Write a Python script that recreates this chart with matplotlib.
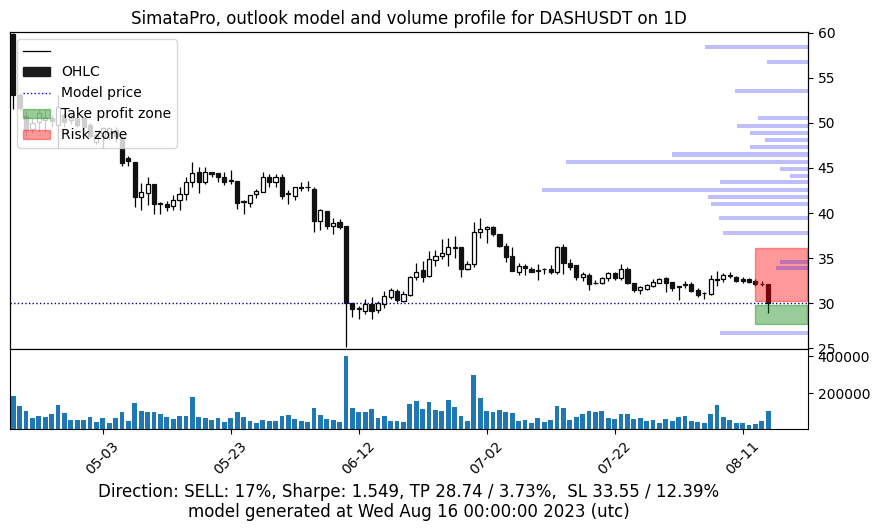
import matplotlib
matplotlib.use("Agg")
import matplotlib.pyplot as plt
import matplotlib.dates as mdates
from matplotlib.lines import Line2D
from matplotlib.patches import Patch, Rectangle
import numpy as np
import pandas as pd

# daily candles, DASHUSDT
dates = pd.date_range("2023-04-19", "2023-08-15", freq="D")

opens = [59.9, 53.1, 50.8, 49.3, 50.1, 50.3, 50.5, 49.8, 50.9, 50.3,
         50.5, 50.5, 49.8, 47.9, 48.6, 48.85, 49.2, 48.3, 46.1, 45.7,
         41.8, 42.2, 43.2, 41.1, 41.0, 40.8, 41.4, 42.1, 43.4, 44.55,
         43.4, 44.6, 44.4, 44.0, 43.7, 43.6, 41.3, 41.1, 42.1, 42.3,
         43.96, 43.4, 44.0, 42.2, 41.9, 42.9, 42.85, 42.7, 39.1, 40.2,
         38.6, 39.0, 38.55, 29.96, 29.4, 29.15, 29.9, 29.2, 29.9, 30.7,
         31.3, 30.26, 30.9, 32.9, 33.7, 33.0, 34.8, 35.2, 35.44, 36.2,
         36.2, 33.8, 34.3, 37.9, 38.2, 38.4, 37.7, 36.33, 35.2, 33.5,
         34.1, 33.78, 33.65, 33.76, 33.74, 33.5, 36.2, 34.48, 34.2, 32.85,
         33.1, 32.28, 32.2, 32.74, 33.3, 32.74, 33.74, 32.2, 31.44, 31.6,
         31.93, 32.26, 32.74, 32.3, 31.9, 32.15, 32.1, 31.44, 31.1, 31.0,
         32.6, 32.63, 33.15, 32.93, 32.67, 32.63, 32.44, 32.12, 32.1]
highs = [60.0, 53.3, 51.3, 50.6, 51.4, 51.4, 50.9, 53.1, 51.1, 50.9,
         50.8, 50.7, 50.0, 48.9, 49.6, 49.6, 49.6, 48.5, 46.3, 45.7,
         43.3, 44.0, 43.2, 41.2, 41.3, 42.0, 42.9, 44.0, 45.7, 45.1,
         45.1, 44.6, 44.4, 44.5, 44.8, 43.6, 41.4, 42.0, 42.7, 44.5,
         44.3, 44.3, 44.3, 42.6, 42.85, 43.5, 43.6, 42.85, 40.5, 40.2,
         39.4, 39.3, 38.55, 29.96, 29.7, 30.5, 30.7, 30.2, 31.3, 31.7,
         31.6, 31.3, 33.0, 34.4, 34.7, 35.8, 35.9, 37.07, 37.2, 37.4,
         36.2, 34.7, 39.0, 39.5, 38.55, 38.55, 37.7, 36.7, 36.2, 34.4,
         34.3, 34.05, 34.3, 33.95, 34.2, 36.3, 36.6, 34.85, 34.2, 33.5,
         33.37, 32.6, 32.9, 33.5, 33.5, 34.3, 33.96, 32.2, 31.9, 32.1,
         32.63, 32.74, 32.85, 32.37, 31.9, 32.48, 32.37, 31.63, 31.26, 33.1,
         33.6, 33.37, 33.5, 33.0, 32.93, 32.74, 32.63, 32.48, 32.1]
lows = [51.6, 51.4, 48.6, 48.9, 49.0, 49.0, 49.6, 47.2, 49.6, 49.9,
        49.5, 49.3, 48.4, 47.7, 47.2, 48.1, 47.9, 45.2, 45.2, 40.7,
        40.3, 40.9, 39.9, 39.9, 40.2, 40.3, 40.3, 41.5, 42.9, 42.2,
        43.2, 44.0, 43.5, 43.1, 43.2, 40.5, 39.9, 40.7, 41.7, 42.3,
        42.9, 42.9, 41.6, 41.0, 41.5, 42.5, 42.5, 37.9, 38.1, 38.2,
        37.7, 38.2, 25.15, 28.5, 28.2, 28.8, 28.2, 28.85, 29.4, 30.5,
        30.1, 30.15, 30.8, 32.6, 32.3, 32.85, 34.1, 34.85, 34.1, 34.96,
        32.85, 33.7, 34.0, 37.2, 36.7, 37.4, 36.2, 34.6, 33.6, 33.1,
        33.1, 33.4, 32.56, 33.2, 33.2, 33.2, 33.2, 33.7, 32.6, 32.5,
        31.5, 32.1, 32.1, 32.5, 32.56, 32.56, 32.1, 31.26, 31.0, 31.4,
        31.74, 32.2, 31.26, 31.37, 30.33, 31.63, 31.26, 30.63, 30.5, 30.9,
        31.9, 32.37, 32.74, 32.37, 32.26, 32.26, 31.9, 31.9, 28.9]
closes = [53.1, 51.7, 49.2, 50.0, 51.1, 50.5, 50.2, 51.8, 50.1, 50.6,
          49.8, 49.6, 48.5, 48.7, 49.4, 49.4, 48.6, 45.5, 45.8, 41.8,
          42.3, 43.2, 41.0, 41.0, 40.7, 41.4, 42.1, 43.4, 44.4, 43.4,
          44.6, 44.3, 44.0, 43.5, 43.6, 41.1, 41.2, 42.0, 42.4, 44.0,
          43.4, 44.0, 41.9, 42.15, 42.85, 42.8, 42.85, 39.1, 40.3, 38.6,
          38.9, 38.5, 29.96, 29.3, 29.35, 29.9, 29.15, 30.0, 30.8, 31.4,
          30.3, 30.96, 32.85, 33.5, 32.9, 34.85, 35.2, 35.6, 36.2, 36.15,
          33.8, 34.3, 37.85, 38.26, 38.4, 37.7, 36.3, 35.15, 33.6, 34.1,
          33.85, 33.5, 33.6, 33.74, 33.48, 36.2, 34.4, 34.04, 32.85, 33.2,
          32.1, 32.26, 32.74, 33.3, 32.74, 33.74, 32.2, 31.4, 31.74, 32.0,
          32.37, 32.63, 32.26, 31.63, 31.8, 32.0, 31.37, 30.9, 31.07, 32.63,
          32.63, 33.15, 33.0, 32.48, 32.48, 32.37, 32.1, 32.1, 29.96]
volumes = [186500, 132400, 105400, 67600, 78400, 73000, 89200, 137800, 94600, 56700,
           56700, 56700, 73000, 45900, 67600, 40500, 67600, 100000, 51300, 148600,
           105400, 100000, 100000, 89200, 73000, 62200, 78400, 78400, 181100, 73000,
           67600, 56700, 67600, 45900, 67600, 100000, 73000, 51300, 40500, 56700,
           51300, 51300, 78400, 83800, 62200, 51300, 45900, 121600, 83800, 62200,
           56700, 45900, 402700, 121600, 100000, 100000, 116200, 67600, 78400, 51300,
           51300, 45900, 143200, 159400, 116200, 154000, 110800, 105400, 164800, 127000,
           78400, 51300, 300000, 175700, 105400, 100000, 110800, 100000, 94600, 51300,
           56700, 40500, 67600, 45900, 56700, 132400, 121600, 56700, 73000, 89200,
           105400, 100000, 105400, 67600, 62200, 89200, 89200, 62200, 67600, 51300,
           56700, 40500, 62200, 51300, 73000, 78400, 51300, 45900, 40500, 89200,
           137800, 73000, 56700, 40500, 40500, 29700, 35100, 51300, 105400]

# volume profile (price level -> relative volume)
profile_prices = [58.4, 56.8, 53.6, 50.5, 49.7, 48.9, 48.1, 47.3, 46.5, 45.7, 44.9,
                  44.1, 43.4, 42.6, 41.8, 41.0, 39.4, 37.8, 34.6, 33.85, 26.7]
profile_volumes = [103, 41, 73, 50, 71, 58, 43, 58, 136, 242, 28,
                   18, 88, 266, 100, 97, 89, 85, 28, 32, 88]

model_price = 29.96
tp_zone = (27.7, 29.78)
risk_zone = (30.2, 36.07)
zone_start, zone_end = "2023-08-13", "2023-08-21"
tick_dates = ["2023-05-03", "2023-05-23", "2023-06-12", "2023-07-02", "2023-07-22", "2023-08-11"]

title = "SimataPro, outlook model and volume profile for DASHUSDT on 1D"
footer = ("Direction: SELL: 17%, Sharpe: 1.549, TP 28.74 / 3.73%,  SL 33.55 / 12.39%\n"
          "model generated at Wed Aug 16 00:00:00 2023 (utc)")

x = mdates.date2num(dates)
o, h, l, c = map(np.array, (opens, highs, lows, closes))
up = c >= o

fig = plt.figure(figsize=(8.8, 5.31), dpi=100)
gs = fig.add_gridspec(2, 1, height_ratios=[317, 80], hspace=0)
ax = fig.add_subplot(gs[0])
ax_vol = fig.add_subplot(gs[1], sharex=ax)
fig.subplots_adjust(left=0.0114, right=0.918, top=0.9397, bottom=0.1921)

# candles
ax.vlines(x, l, h, color="black", linewidth=0.9, zorder=2)
ax.bar(x[up], (c - o)[up], bottom=o[up], width=0.65, facecolor="white",
       edgecolor="black", linewidth=0.9, zorder=3)
ax.bar(x[~up], (o - c)[~up], bottom=c[~up], width=0.65, facecolor="#111111",
       edgecolor="#111111", linewidth=0.9, zorder=3)

ax.axhline(model_price, color="#00008b", linestyle=":", linewidth=1.0, zorder=4)

z0, z1 = mdates.date2num(pd.Timestamp(zone_start)), mdates.date2num(pd.Timestamp(zone_end))
ax.add_patch(Rectangle((z0, tp_zone[0]), z1 - z0, tp_zone[1] - tp_zone[0],
                       color="green", alpha=0.4, zorder=5))
ax.add_patch(Rectangle((z0, risk_zone[0]), z1 - z0, risk_zone[1] - risk_zone[0],
                       color="red", alpha=0.4, zorder=5))

ax.set_ylim(24.9, 60.1)
ax.set_xlim(x[0] - 0.5, x[0] + 124.2)
ax.yaxis.tick_right()
ax.tick_params(axis="x", bottom=False, labelbottom=False)
ax.set_title(title, fontsize=12)

handles = [Line2D([], [], color="black", linewidth=0.9),
           Patch(facecolor="#1a1a1a", edgecolor="#1a1a1a"),
           Line2D([], [], color="blue", linestyle=":", linewidth=1.0),
           Patch(color="green", alpha=0.4),
           Patch(color="red", alpha=0.4)]
labels = ["", "OHLC", "Model price", "Take profit zone", "Risk zone"]
leg = ax.legend(handles, labels, loc="upper left")
leg.set_zorder(10)

# volume profile
ax_prof = ax.twiny()
ax_prof.barh(profile_prices, profile_volumes, height=0.45, color="blue", alpha=0.25)
ax_prof.set_xlim(max(profile_volumes) * 3.0, 0)
ax_prof.set_xticks([])

# volume
ax_vol.bar(x, volumes, width=0.75, color="#1f77b4")
ax_vol.set_ylim(8100, 440500)
ax_vol.yaxis.tick_right()
ax_vol.set_xticks(mdates.date2num(pd.to_datetime(tick_dates)))
ax_vol.xaxis.set_major_formatter(mdates.DateFormatter("%m-%d"))
plt.setp(ax_vol.get_xticklabels(), rotation=45)
ax_vol.set_xlabel(footer, fontsize=12)

plt.savefig("out.png", dpi=100)
plt.close()
